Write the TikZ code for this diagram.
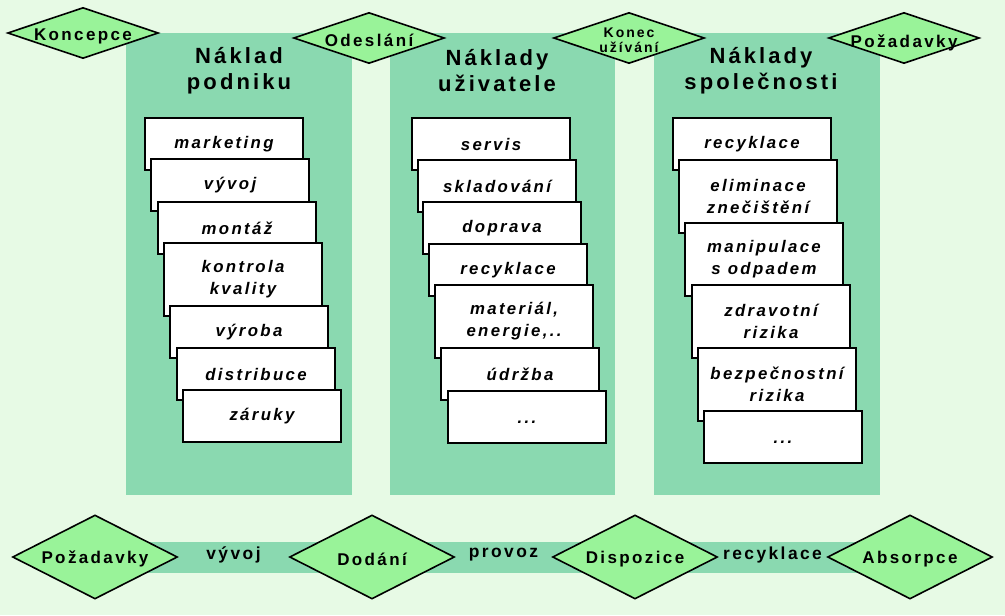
\documentclass[tikz,border=0pt]{standalone}
\usepackage{fontspec}
\setmainfont{Liberation Sans}[LetterSpace=14]
\usetikzlibrary{shapes.geometric}
\usetikzlibrary{backgrounds}
\definecolor{bggreen}{RGB}{231,250,229}
\definecolor{colgreen}{RGB}{138,217,176}
\definecolor{gatefill}{RGB}{153,243,153}
% text of a milestone: no width, lowered by #1
\newcommand{\gtext}[2][1pt]{\makebox[0pt]{\raisebox{-#1}[\height][\depth]{#2}}}
\newcommand{\more}{\vphantom{k}...}
\tikzset{
 card/.style={draw=black, line width=1pt, fill=white, anchor=north west, minimum width=79pt, inner sep=0pt, align=center, font=\fontsize{8.4}{11}\selectfont\bfseries\itshape},
 onerow/.style={minimum height=26pt},
 tworow/.style={minimum height=36.5pt},
 gate/.style={diamond, draw=black, line width=0.8pt, fill=gatefill, inner sep=0pt, font=\fontsize{8.5}{10}\selectfont\bfseries},
 smallgate/.style={gate, minimum width=75.5pt, minimum height=25.5pt},
 biggate/.style={gate, minimum width=82.5pt, minimum height=42pt},
 head/.style={align=center, font=\fontsize{11}{13}\selectfont\bfseries},
 phase/.style={font=\fontsize{8.7}{10}\selectfont\bfseries, yshift=1pt},
 band/.style={colgreen, line width=15.5pt}
}
\begin{document}
\begin{tikzpicture}[x=0.5pt, y=-0.5pt]
\useasboundingbox (0,0) rectangle (1005,615);
% three cost columns
\fill[colgreen] (126,33) rectangle (352,495);
\fill[colgreen] (390,33) rectangle (615,495);
\fill[colgreen] (654,33) rectangle (880,495);
\node[head] (hp) at (239,71) {Náklad\\podniku};
\node[head] (hu) at (497,71) {Náklady\\uživatele};
\node[head] (hs) at (761,71) {Náklady\\společnosti};
% cards
\foreach \x/\y/\r/\t [count=\i] in {144/117/onerow/marketing, 150/158/onerow/vývoj,
  157/201/onerow/montáž, 163/242/tworow/{kontrola\\kvality}, 169/305/onerow/výroba,
  176/347/onerow/distribuce, 182/389/onerow/záruky}
 \node[card, \r] (p\i) at (\x,\y) {\t};
\foreach \x/\y/\r/\t [count=\i] in {411/117/onerow/servis, 417/159/onerow/skladování,
  422/201/onerow/doprava, 428/243/onerow/recyklace, 434/284/tworow/{materiál,\\energie,..},
  440/347/onerow/údržba, 447/390/onerow/\more}
 \node[card, \r] (u\i) at (\x,\y) {\t};
\foreach \x/\y/\r/\t [count=\i] in {672/117/onerow/recyklace, 678/159/tworow/{eliminace\\znečištění},
  684/222/tworow/{manipulace\\s odpadem}, 691/284/tworow/{zdravotní\\rizika},
  697/347/tworow/{bezpečnostní\\rizika}, 703/410/onerow/\more}
 \node[card, \r] (s\i) at (\x,\y) {\t};
% milestones on top
\node[smallgate] (kc) at (83,33) {\gtext[1.5pt]{Koncepce}};
\node[smallgate] (od) at (369,38) {\gtext{Odeslání}};
\node[smallgate, font=\fontsize{7}{7.5}\selectfont\bfseries] (ku) at (629,38)
 {\gtext[2pt]{\begin{tabular}{@{}c@{}}Konec\\užívání\end{tabular}}};
\node[smallgate] (pt) at (904,38) {\gtext[2.5pt]{Požadavky}};
% life cycle band
\node[biggate] (rq) at (95,557) {\gtext{Požadavky}};
\node[biggate] (dd) at (372,557) {\gtext{Dodání}};
\node[biggate] (di) at (635,557) {\gtext{Dispozice}};
\node[biggate] (ab) at (910,557) {\gtext{Absorpce}};
\begin{scope}[on background layer]
\fill[bggreen] (0,0) rectangle (1005,615);
\draw[band] (rq.center) -- (ab.center);
\end{scope}
\path (rq) -- node[phase] (vy) {vývoj} (dd);
\path (dd) -- node[phase] (pr) {provoz} (di);
\path (di) -- node[phase] (re) {recyklace} (ab);
\end{tikzpicture}
\end{document}
